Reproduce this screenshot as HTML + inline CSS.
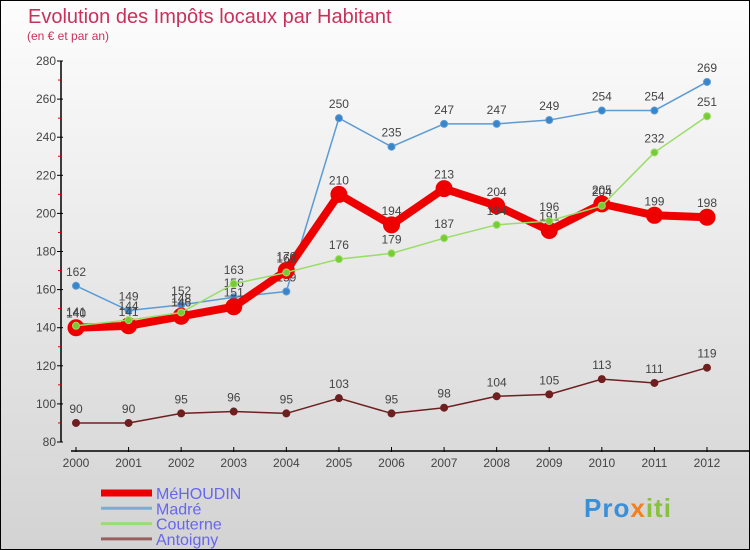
<!DOCTYPE html>
<html><head><meta charset="utf-8"><style>
body{margin:0}
#c{width:750px;height:550px;position:relative;font-family:"Liberation Sans",sans-serif;overflow:hidden;border:1px solid #000;box-sizing:border-box;background:linear-gradient(#fdfdfd,#d3d3d3)}
</style></head><body>
<div id="c">
<svg id="s" width="750" height="550" style="position:absolute;left:0;top:0"></svg>
</div>
<script>
const years=["2000","2001","2002","2003","2004","2005","2006","2007","2008","2009","2010","2011","2012"];
const yTicks=[80,100,120,140,160,180,200,220,240,260,280];
const madre=[162,149,152,156,159,250,235,247,247,249,254,254,269];
const couterne=[141,144,148,163,169,176,179,187,194,196,204,232,251];
const mehoudin=[140,141,146,151,170,210,194,213,204,191,205,199,198];
const antoigny=[90,90,95,96,95,103,95,98,104,105,113,111,119];
const NS="http://www.w3.org/2000/svg";
const s=document.getElementById('s');
const X=i=>75+i*(706-75)/12;
const Y=v=>441-(v-80)*(441-60)/200;
function mk(t,a,p){const e=document.createElementNS(NS,t);for(const k in a)e.setAttribute(k,a[k]);(p||s).appendChild(e);return e;}
let t=mk('text',{x:27,y:22,'font-size':20,fill:'#c8325a'});t.textContent='Evolution des Impôts locaux par Habitant';

t=mk('text',{x:26,y:39,'font-size':12,fill:'#c8325a'});t.textContent='(en € et par an)';

let ax=mk('line',{x1:60,y1:60,x2:60,y2:441,stroke:'#000','stroke-width':1.5});

yTicks.forEach((v,i)=>{mk('line',{x1:56,x2:62,y1:Y(v),y2:Y(v),stroke:'#000'});
 if(i<yTicks.length-1)mk('line',{x1:57,x2:60,y1:Y(v+10),y2:Y(v+10),stroke:'#d00'});
 const e=mk('text',{x:55,y:Y(v)+4,'font-size':12,fill:'#444','text-anchor':'end'});e.textContent=v;
 });
ax=mk('line',{x1:70,y1:450,x2:750,y2:450,stroke:'#000','stroke-width':1.5});

years.forEach((y,i)=>{mk('line',{x1:X(i),x2:X(i),y1:446,y2:451,stroke:'#000'});
 const e=mk('text',{x:X(i),y:466,'font-size':12,fill:'#444','text-anchor':'middle'});e.textContent=y;
 });
function series(d,col,dot,w,r,name){
 const g=mk('g',{});
 mk('polyline',{points:d.map((v,i)=>X(i)+','+Y(v)).join(' '),fill:'none',stroke:col,'stroke-width':w,'stroke-linejoin':'round'},g);
 d.forEach((v,i)=>{const c=mk('circle',{cx:X(i),cy:Y(v),r:r,fill:dot,stroke:col,'stroke-width':1},g);
  
  const e=mk('text',{x:X(i),y:Y(v)-10,'font-size':12,fill:'#444','text-anchor':'middle'},g);e.textContent=v;});
}
series(antoigny,'#6e2020','#6e2020',1.5,3.5,'antoigny');
series(madre,'#5b9bd5','#3a85c8',1.5,3.5,'madre');
series(mehoudin,'#ee0000','#ee0000',8,8,'mehoudin');
series(couterne,'#99dd66','#77cc33',1.5,3.5,'couterne');
const leg=[['MéHOUDIN','#ee0000',7],['Madré','#7aaed0',3],['Couterne','#99dd77',3],['Antoigny','#9a6060',3]];
leg.forEach((l,i)=>{const y=492+i*15.3;
 const g=mk('g',{});
 mk('line',{x1:100,x2:151,y1:y,y2:y,stroke:l[1],'stroke-width':l[2]},g);
 const e=mk('text',{x:155,y:y+6,'font-size':16,fill:'#6666ee'},g);e.textContent=l[0];});
const lg=mk('text',{x:583,y:516,'font-size':26,'font-weight':'bold','letter-spacing':1});

[['Pro','#3a8fd8'],['x','#f08020'],['iti','#88c040']].forEach(p=>{const ts=mk('tspan',{fill:p[1]},lg);ts.textContent=p[0];});
</script>
</body></html>
